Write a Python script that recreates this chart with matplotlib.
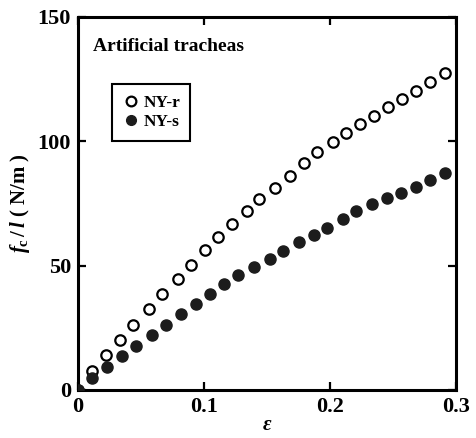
import numpy as np
import matplotlib
matplotlib.use('Agg')
import matplotlib.pyplot as plt

# strain and force per unit length
eps_r = [0.0, 0.011, 0.022, 0.033, 0.044, 0.056, 0.067, 0.079, 0.090, 0.101,
         0.111, 0.122, 0.134, 0.144, 0.156, 0.168, 0.179, 0.190, 0.202, 0.213,
         0.224, 0.235, 0.246, 0.257, 0.268, 0.279, 0.291]
f_r = [0.0, 7.6, 14.1, 20.1, 26.1, 32.5, 38.6, 44.6, 50.2, 56.2,
       61.4, 66.7, 71.9, 76.7, 81.1, 85.9, 91.2, 95.6, 99.6, 103.2,
       106.8, 110.0, 113.7, 116.9, 120.1, 123.7, 127.3]

eps_s = [0.0, 0.011, 0.023, 0.035, 0.046, 0.059, 0.070, 0.082, 0.094, 0.105,
         0.116, 0.127, 0.140, 0.152, 0.163, 0.175, 0.187, 0.198, 0.210, 0.221,
         0.233, 0.245, 0.256, 0.268, 0.279, 0.291]
f_s = [0.0, 4.8, 9.2, 13.7, 17.7, 22.1, 26.1, 30.5, 34.5, 38.6,
       42.6, 46.2, 49.4, 52.6, 55.8, 59.4, 62.2, 65.1, 68.7, 71.9,
       74.7, 77.1, 79.1, 81.5, 84.3, 87.1]

xticks = [0, 0.1, 0.2, 0.3]
xticklabels = ['0', '0.1', '0.2', '0.3']
yticks = [0, 50, 100, 150]

plt.rcParams['font.family'] = ['Liberation Serif', 'DejaVu Serif']
plt.rcParams['font.weight'] = 'bold'
plt.rcParams['mathtext.fontset'] = 'custom'
plt.rcParams['mathtext.rm'] = 'Liberation Serif'
plt.rcParams['mathtext.it'] = 'Liberation Serif:italic'
plt.rcParams['mathtext.bf'] = 'Liberation Serif:bold'

fig = plt.figure(figsize=(4.77, 4.38), dpi=100)
ax = fig.add_axes([0.1635, 0.1096, 0.7925, 0.8516])

ax.plot(eps_r, f_r, 'o', ms=7.5, mfc='white', mec='black', mew=1.6,
        label='NY-r', zorder=3)
ax.plot(eps_s, f_s, 'o', ms=8, mfc='#1c1c1c', mec='#1c1c1c', mew=1.0,
        label='NY-s', zorder=4)

ax.set_xlim(0, 0.3)
ax.set_ylim(0, 150)
ax.set_xticks(xticks)
ax.set_xticklabels(xticklabels)
ax.set_yticks(yticks)
for s in ax.spines.values():
    s.set_linewidth(2.2)
ax.tick_params(direction='in', length=6, width=1.6, top=True, right=True,
               labelsize=16, pad=5)
for lab in ax.get_xticklabels() + ax.get_yticklabels():
    lab.set_fontweight('bold')

ax.set_xlabel(r'$\varepsilon$', fontsize=15, labelpad=-1)
ax.set_ylabel(r'$f_{\rm c}\,/\,l$ ( N/m )', fontsize=15, fontweight='bold',
              labelpad=4)

ax.text(0.04, 0.92, 'Artificial tracheas', transform=ax.transAxes,
        fontsize=14, fontweight='bold', va='center', ha='left')

leg = ax.legend(loc='upper left', bbox_to_anchor=(0.09, 0.82), fancybox=False,
                edgecolor='black', framealpha=1, handletextpad=0.2,
                handlelength=1.0, borderpad=0.6, labelspacing=0.2,
                borderaxespad=0,
                prop={'family': 'Liberation Serif', 'weight': 'bold', 'size': 12.5})
leg.get_frame().set_linewidth(1.5)
for h in leg.legend_handles:
    h.set_markersize(7)

fig.savefig('out.png', dpi=100)
